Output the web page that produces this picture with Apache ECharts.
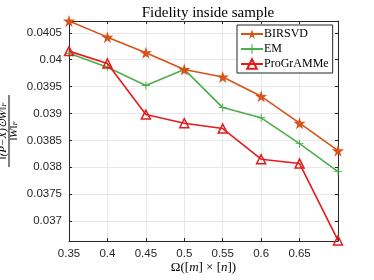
<!DOCTYPE html>
<html>
<head>
<meta charset="utf-8">
<script src="https://cdn.jsdelivr.net/npm/echarts@6/dist/echarts.min.js"></script>
<style>html,body{margin:0;padding:0;background:#fff}#c{width:374px;height:280px}</style>
</head>
<body>
<div id="c"></div>
<script>
var xValues = [0.35, 0.40, 0.45, 0.50, 0.55, 0.60, 0.65, 0.70];
var birsvd = [0.04072, 0.04042, 0.04013, 0.03982, 0.03968, 0.03932, 0.03882, 0.03831];
var em = [0.04012, 0.03986, 0.03952, 0.03982, 0.03911, 0.03892, 0.03844, 0.03792];
var programme = [0.04016, 0.03993, 0.03898, 0.03882, 0.03872, 0.03815, 0.03807, 0.03664];
var seriesNames = ['BIRSVD', 'EM', 'ProGrAMMe'];
var xTickLabels = ['0.35', '0.4', '0.45', '0.5', '0.55', '0.6', '0.65', ''];
var yTickValues = [0.037, 0.0375, 0.038, 0.0385, 0.039, 0.0395, 0.04, 0.0405];
var yTickLabels = ['0.037', '0.0375', '0.038', '0.0385', '0.039', '0.0395', '0.04', '0.0405'];

var ORANGE = '#d95319', GREEN = '#4daf4a', RED = '#e41a1c', AX = '#262626';
var STAR = 'path://M50,0 L61,35 L98,35 L68,57 L79,91 L50,70 L21,91 L32,57 L2,35 L39,35 Z';
var PLUS = 'path://M4.4,0 L5.6,0 L5.6,4.4 L10,4.4 L10,5.6 L5.6,5.6 L5.6,10 L4.4,10 L4.4,5.6 L0,5.6 L0,4.4 L4.4,4.4 Z';

function pairs(arr) { return arr.map(function (v, i) { return [xValues[i], v]; }); }
function xLabel(v) { var i = Math.round((v - 0.35) / 0.05); return xTickLabels[i] !== undefined ? xTickLabels[i] : ''; }
function yLabel(v) {
  for (var i = 0; i < yTickValues.length; i++) { if (Math.abs(v - yTickValues[i]) < 1e-8) return yTickLabels[i]; }
  return '';
}

var chart = echarts.init(document.getElementById('c'), null, { renderer: 'canvas' });
var labelFont = { fontFamily: 'Liberation Sans', fontSize: 11.5, color: AX };
chart.setOption({
  animation: false,
  backgroundColor: '#fff',
  title: {
    text: 'Fidelity inside sample', left: 203, top: 1, textAlign: 'center',
    textStyle: { fontFamily: 'Liberation Serif', fontWeight: 'normal', fontSize: 15, color: '#000' }
  },
  legend: {
    orient: 'vertical', left: 237, top: 25, padding: [3, 4, 3, 3], itemGap: 3,
    itemWidth: 22, itemHeight: 12, borderColor: AX, borderWidth: 1, backgroundColor: '#fff',
    textStyle: { fontFamily: 'Liberation Serif', fontSize: 12, color: '#000', padding: [0, 0, 0, -4] },
    data: seriesNames
  },
  grid: { left: 69, right: 36, top: 21, bottom: 39, containLabel: false, outerBoundsMode: 'none' },
  xAxis: [{
    type: 'value', min: 0.35, max: 0.7, interval: 0.05,
    name: '{r|Ω([}{i|m}{r|] × [}{i|n}{r|])}', nameLocation: 'middle', nameGap: 20, nameMoveOverlap: false,
    nameTextStyle: { rich: {
      r: { fontFamily: 'Liberation Serif', fontSize: 13, color: '#000' },
      i: { fontFamily: 'Liberation Serif', fontStyle: 'italic', fontSize: 13, color: '#000' } } },
    axisLine: { show: true, lineStyle: { color: AX, width: 1 } },
    axisTick: { show: true, inside: true, length: 3, lineStyle: { color: AX } },
    axisLabel: Object.assign({ formatter: xLabel, margin: 7, showMaxLabel: false }, labelFont),
    splitLine: { show: true, lineStyle: { color: '#e8e8e8', width: 1 } }
  }, {
    type: 'value', min: 0.35, max: 0.7, interval: 0.05, position: 'top',
    axisLine: { show: true, onZero: false, lineStyle: { color: AX, width: 1 } },
    axisTick: { show: true, inside: true, length: 3, lineStyle: { color: AX } },
    axisLabel: { show: false }, splitLine: { show: false }
  }],
  yAxis: [{
    type: 'value', min: 0.03663, max: 0.04072,
    name: '{n|‖(P−X)⊙W‖}{s|F}\n{bar|}\n{n|‖W‖}{s|F}', nameLocation: 'middle', nameGap: 50, nameRotate: 90,
    nameMoveOverlap: false,
    nameTextStyle: { align: 'center', rich: {
      n: { fontFamily: 'Liberation Serif', fontStyle: 'italic', fontSize: 11, color: '#000', lineHeight: 9 },
      s: { fontFamily: 'Liberation Serif', fontStyle: 'italic', fontSize: 7, color: '#000', lineHeight: 9, verticalAlign: 'bottom' },
      bar: { width: 72, height: 1, lineHeight: 2, backgroundColor: '#000' } } },
    axisLine: { show: true, lineStyle: { color: AX, width: 1 } },
    axisTick: { show: true, inside: true, length: 3, lineStyle: { color: AX }, customValues: yTickValues },
    axisLabel: Object.assign({ formatter: yLabel, margin: 7, customValues: yTickValues }, labelFont),
    splitLine: { show: true, lineStyle: { color: '#e8e8e8', width: 1 } }
  }, {
    type: 'value', min: 0.03663, max: 0.04072, position: 'right',
    axisLine: { show: true, onZero: false, lineStyle: { color: AX, width: 1 } },
    axisTick: { show: true, inside: true, length: 3, lineStyle: { color: AX }, customValues: yTickValues },
    axisLabel: { show: false }, splitLine: { show: false }
  }],
  series: [{
    name: seriesNames[0], type: 'line', data: pairs(birsvd), symbol: STAR, symbolSize: 12,
    lineStyle: { color: ORANGE, width: 1.6 }, itemStyle: { color: ORANGE }, z: 3
  }, {
    name: seriesNames[1], type: 'line', data: pairs(em), symbol: PLUS, symbolSize: 8,
    lineStyle: { color: GREEN, width: 1.6 }, itemStyle: { color: GREEN }, z: 2
  }, {
    name: seriesNames[2], type: 'line', data: pairs(programme), symbol: 'triangle', symbolSize: 9,
    lineStyle: { color: RED, width: 1.6 }, itemStyle: { color: 'rgba(255,255,255,0)', borderColor: RED, borderWidth: 1.5 }, z: 4
  }]
});
</script>
</body>
</html>
